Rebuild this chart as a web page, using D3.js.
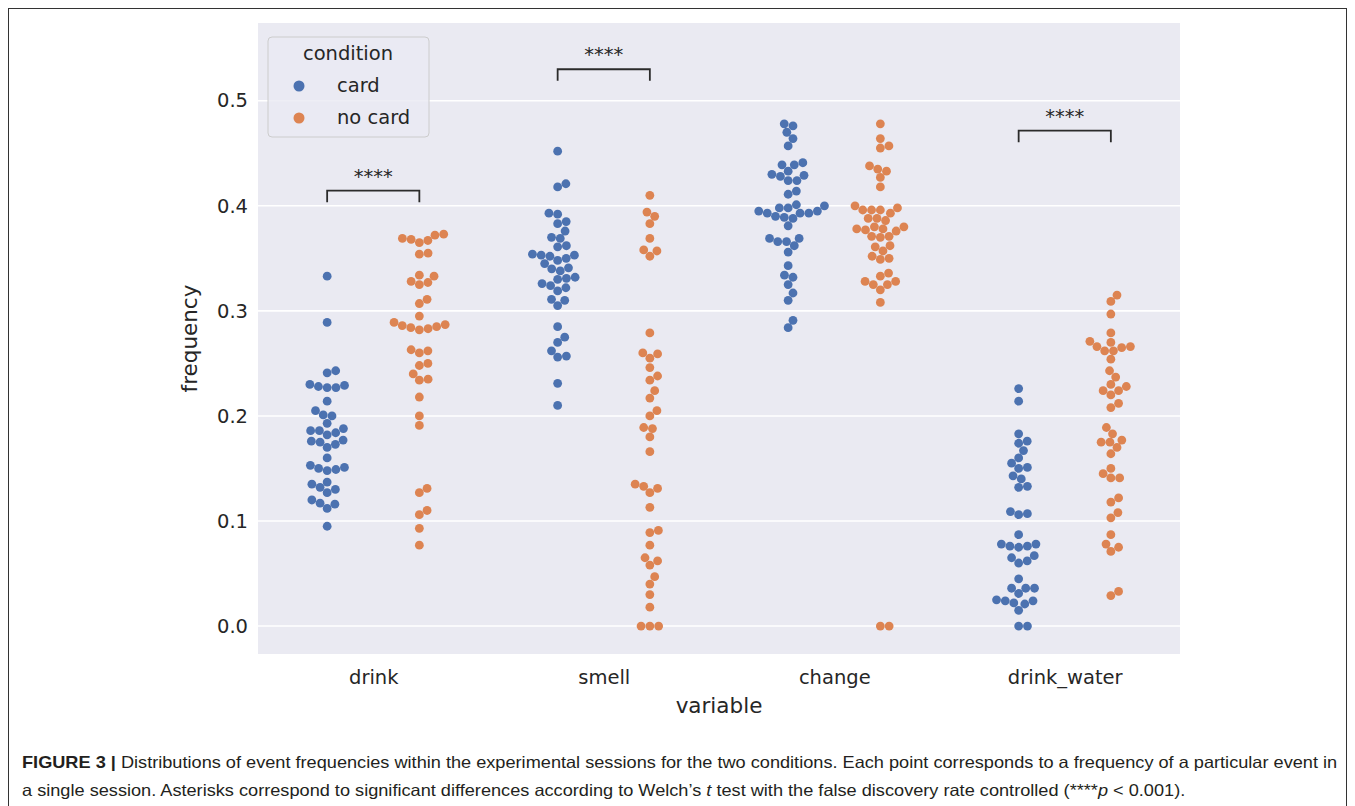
<!DOCTYPE html>
<html>
<head>
<meta charset="utf-8">
<script src="https://cdn.jsdelivr.net/npm/d3@7"></script>
<style>
  body { margin: 0; background: #fff; }
  svg { display: block; }
</style>
</head>
<body>
<div id="chart"></div>
<script>
// categories and conditions
const categories = ["drink", "smell", "change", "drink_water"];
const conditions = ["card", "no card"];
const yTicks = [0.0, 0.1, 0.2, 0.3, 0.4, 0.5];

// frequencies per session
const drinkCard = [0.333, 0.289, 0.243, 0.241, 0.230, 0.228, 0.227, 0.227, 0.229, 0.214, 0.205, 0.200, 0.201,
  0.193, 0.188, 0.184, 0.182, 0.186, 0.186, 0.177, 0.173, 0.170, 0.175, 0.176, 0.160, 0.153, 0.149, 0.148,
  0.151, 0.150, 0.137, 0.135, 0.132, 0.130, 0.127, 0.120, 0.117, 0.116, 0.112, 0.095];
const drinkNoCard = [0.373, 0.372, 0.369, 0.368, 0.367, 0.365, 0.355, 0.354, 0.334, 0.333, 0.328, 0.325, 0.327,
  0.311, 0.307, 0.295, 0.289, 0.286, 0.284, 0.282, 0.283, 0.285, 0.287, 0.263, 0.262, 0.260, 0.250, 0.248,
  0.240, 0.235, 0.234, 0.218, 0.200, 0.191, 0.131, 0.127, 0.110, 0.106, 0.093, 0.077];
const smellCard = [0.452, 0.421, 0.418, 0.393, 0.392, 0.385, 0.383, 0.376, 0.370, 0.369, 0.362, 0.361, 0.353,
  0.350, 0.352, 0.353, 0.354, 0.348, 0.345, 0.340, 0.338, 0.341, 0.332, 0.330, 0.331, 0.326, 0.322, 0.324,
  0.319, 0.310, 0.311, 0.305, 0.285, 0.275, 0.270, 0.262, 0.257, 0.256, 0.231, 0.210];
const smellNoCard = [0.410, 0.394, 0.390, 0.383, 0.369, 0.358, 0.357, 0.352, 0.279, 0.260, 0.259, 0.255, 0.246,
  0.238, 0.234, 0.224, 0.217, 0.205, 0.200, 0.189, 0.188, 0.180, 0.166, 0.135, 0.133, 0.131, 0.127, 0.113,
  0.091, 0.089, 0.077, 0.065, 0.062, 0.058, 0.047, 0.040, 0.030, 0.018, 0.0, 0.0, 0.0];
const changeCard = [0.478, 0.476, 0.470, 0.464, 0.457, 0.441, 0.439, 0.439, 0.433, 0.430, 0.429, 0.428, 0.424,
  0.424, 0.414, 0.411, 0.400, 0.398, 0.401, 0.398, 0.395, 0.393, 0.395, 0.393, 0.393, 0.390, 0.388, 0.389,
  0.381, 0.369, 0.369, 0.366, 0.366, 0.362, 0.356, 0.343, 0.332, 0.334, 0.325, 0.317, 0.310, 0.291, 0.284];
const changeNoCard = [0.478, 0.464, 0.457, 0.455, 0.438, 0.433, 0.435, 0.427, 0.418, 0.398, 0.396, 0.400, 0.393,
  0.396, 0.396, 0.388, 0.386, 0.388, 0.380, 0.378, 0.376, 0.377, 0.378, 0.380, 0.371, 0.370, 0.371, 0.361,
  0.357, 0.362, 0.350, 0.349, 0.352, 0.336, 0.333, 0.328, 0.325, 0.325, 0.328, 0.320, 0.308, 0.0, 0.0];
const waterCard = [0.226, 0.214, 0.183, 0.174, 0.176, 0.167, 0.160, 0.155, 0.150, 0.151, 0.143, 0.140, 0.133,
  0.132, 0.107, 0.106, 0.109, 0.087, 0.078, 0.076, 0.075, 0.076, 0.078, 0.065, 0.062, 0.060, 0.067, 0.045,
  0.036, 0.036, 0.036, 0.031, 0.025, 0.024, 0.022, 0.021, 0.024, 0.015, 0.0, 0.0];
const waterNoCard = [0.315, 0.309, 0.297, 0.279, 0.271, 0.270, 0.266, 0.262, 0.262, 0.265, 0.266, 0.254, 0.243,
  0.237, 0.230, 0.228, 0.224, 0.224, 0.220, 0.212, 0.208, 0.189, 0.183, 0.177, 0.175, 0.175, 0.170, 0.164,
  0.150, 0.145, 0.141, 0.141, 0.122, 0.118, 0.108, 0.103, 0.087, 0.078, 0.075, 0.071, 0.033, 0.029];

const seriesValues = [
  [drinkCard, drinkNoCard],
  [smellCard, smellNoCard],
  [changeCard, changeNoCard],
  [waterCard, waterNoCard]
];

// significance brackets: category index and height of bracket top
const annotCats = [0, 1, 3];
const annotY = [0.4145, 0.530, 0.4715];
const annotText = "****";

const colors = ["#4c72b0", "#dd8452"];

const W = 1355, H = 806;
const plot = { left: 258, top: 23, right: 1180, bottom: 654 };

const svg = d3.select("#chart").append("svg")
  .attr("width", W)
  .attr("height", H);

// outer frame
svg.append("rect")
  .attr("x", 8.5).attr("y", 8.5)
  .attr("width", 1338).attr("height", 820)
  .attr("fill", "none")
  .attr("stroke", "#333")
  .attr("stroke-width", 1);

const x = d3.scaleLinear().domain([-0.5, 3.5]).range([plot.left, plot.right]);
const y = d3.scaleLinear().domain([-0.0266, 0.574]).range([plot.bottom, plot.top]);

svg.append("rect")
  .attr("x", plot.left).attr("y", plot.top)
  .attr("width", plot.right - plot.left)
  .attr("height", plot.bottom - plot.top)
  .attr("fill", "#eaeaf2");

// grid lines
svg.append("g").selectAll("line")
  .data(yTicks)
  .enter().append("line")
  .attr("x1", plot.left).attr("x2", plot.right)
  .attr("y1", d => y(d)).attr("y2", d => y(d))
  .attr("stroke", "#fff")
  .attr("stroke-width", 1.6);

// axes (labels only, seaborn darkgrid style)
const yAxis = svg.append("g")
  .attr("transform", `translate(${plot.left},0)`)
  .call(d3.axisLeft(y).tickValues(yTicks).tickFormat(d3.format(".1f")).tickSize(0).tickPadding(10));
yAxis.select(".domain").remove();
yAxis.selectAll("text")
  .attr("font-family", "DejaVu Sans")
  .attr("font-size", 19.5)
  .attr("fill", "#262626");

const xAxis = svg.append("g")
  .attr("transform", `translate(0,${plot.bottom})`)
  .call(d3.axisBottom(x).tickValues([0, 1, 2, 3]).tickFormat(i => categories[i]).tickSize(0).tickPadding(16));
xAxis.select(".domain").remove();
xAxis.selectAll("text")
  .attr("font-family", "DejaVu Sans")
  .attr("font-size", 19.5)
  .attr("fill", "#262626");

svg.append("text")
  .attr("x", (plot.left + plot.right) / 2)
  .attr("y", 713)
  .attr("text-anchor", "middle")
  .attr("font-family", "DejaVu Sans")
  .attr("font-size", 21.5)
  .attr("fill", "#262626")
  .text("variable");

svg.append("text")
  .attr("transform", `translate(197,${(plot.top + plot.bottom) / 2}) rotate(-90)`)
  .attr("text-anchor", "middle")
  .attr("font-family", "DejaVu Sans")
  .attr("font-size", 21.5)
  .attr("fill", "#262626")
  .text("frequency");

// beeswarm placement in pixel space
const r = 4.4;
function swarm(values, cx) {
  const d = 2 * r;
  const pts = values.map(v => ({ v, py: y(v) })).sort((a, b) => a.v - b.v);
  const placed = [];
  pts.forEach(p => {
    const near = placed.filter(q => Math.abs(q.py - p.py) < d);
    const cands = [0];
    near.forEach(q => {
      const dx = Math.sqrt(d * d - (q.py - p.py) ** 2);
      cands.push(q.dx + dx, q.dx - dx);
    });
    cands.sort((a, b) => Math.abs(a) - Math.abs(b));
    let chosen = cands[cands.length - 1];
    for (const c of cands) {
      if (near.every(q => Math.hypot(q.dx - c, q.py - p.py) >= d - 0.01)) { chosen = c; break; }
    }
    p.dx = chosen;
    placed.push(p);
  });
  return pts.map(p => ({ v: p.v, px: cx + p.dx, py: p.py }));
}

seriesValues.forEach((pair, ci) => {
  pair.forEach((vals, hi) => {
    const cx = x(ci + (hi === 0 ? -0.2 : 0.2));
    svg.append("g").selectAll("circle")
      .data(swarm(vals, cx))
      .enter().append("circle")
      .attr("cx", d => d.px)
      .attr("cy", d => d.py)
      .attr("r", r)
      .attr("fill", colors[hi]);
  });
});

// significance brackets
const leg = 0.011;
annotCats.forEach((ci, i) => {
  const x1 = x(ci - 0.2), x2 = x(ci + 0.2), top = y(annotY[i]), bot = y(annotY[i] - leg);
  svg.append("path")
    .attr("d", `M${x1},${bot}V${top}H${x2}V${bot}`)
    .attr("fill", "none")
    .attr("stroke", "#2b2b2b")
    .attr("stroke-width", 1.8);
  svg.append("text")
    .attr("x", (x1 + x2) / 2)
    .attr("y", top - 8)
    .attr("text-anchor", "middle")
    .attr("font-family", "DejaVu Sans")
    .attr("font-size", 19.5)
    .attr("fill", "#262626")
    .text(annotText);
});

// legend
const lg = svg.append("g").attr("transform", "translate(268,37)");
lg.append("rect")
  .attr("width", 161).attr("height", 100)
  .attr("rx", 4)
  .attr("fill", "#eaeaf2")
  .attr("fill-opacity", 0.8)
  .attr("stroke", "#cccccc");
lg.append("text")
  .attr("x", 80).attr("y", 23)
  .attr("text-anchor", "middle")
  .attr("font-family", "DejaVu Sans")
  .attr("font-size", 19.5)
  .attr("fill", "#262626")
  .text("condition");
conditions.forEach((c, i) => {
  lg.append("circle")
    .attr("cx", 31).attr("cy", 49 + i * 32)
    .attr("r", 5.5)
    .attr("fill", colors[i]);
  lg.append("text")
    .attr("x", 69).attr("y", 55 + i * 32)
    .attr("font-family", "DejaVu Sans")
    .attr("font-size", 19.5)
    .attr("fill", "#262626")
    .text(c);
});

// caption, squeezed horizontally like the journal's condensed font
function captionLine(yPos) {
  return svg.append("g")
    .attr("transform", `translate(22,${yPos})`)
    .append("text")
    .attr("font-family", "Liberation Sans, Arial, sans-serif")
    .attr("font-size", 16.5)
    .attr("fill", "#231f20");
}
const cap1 = captionLine(768);
cap1.append("tspan").attr("font-weight", "bold").text("FIGURE 3 | ");
cap1.append("tspan").text("Distributions of event frequencies within the experimental sessions for the two conditions. Each point corresponds to a frequency of a particular event in");

const cap2 = captionLine(796);
cap2.append("tspan").text("a single session. Asterisks correspond to significant differences according to Welch\u2019s ");
cap2.append("tspan").attr("font-style", "italic").text("t");
cap2.append("tspan").text(" test with the false discovery rate controlled (****");
cap2.append("tspan").attr("font-style", "italic").text("p");
cap2.append("tspan").text(" < 0.001).");

const k = 1316 / cap1.node().getComputedTextLength();
[cap1, cap2].forEach(t => t.attr("transform", `scale(${k},1)`));
</script>
</body>
</html>
